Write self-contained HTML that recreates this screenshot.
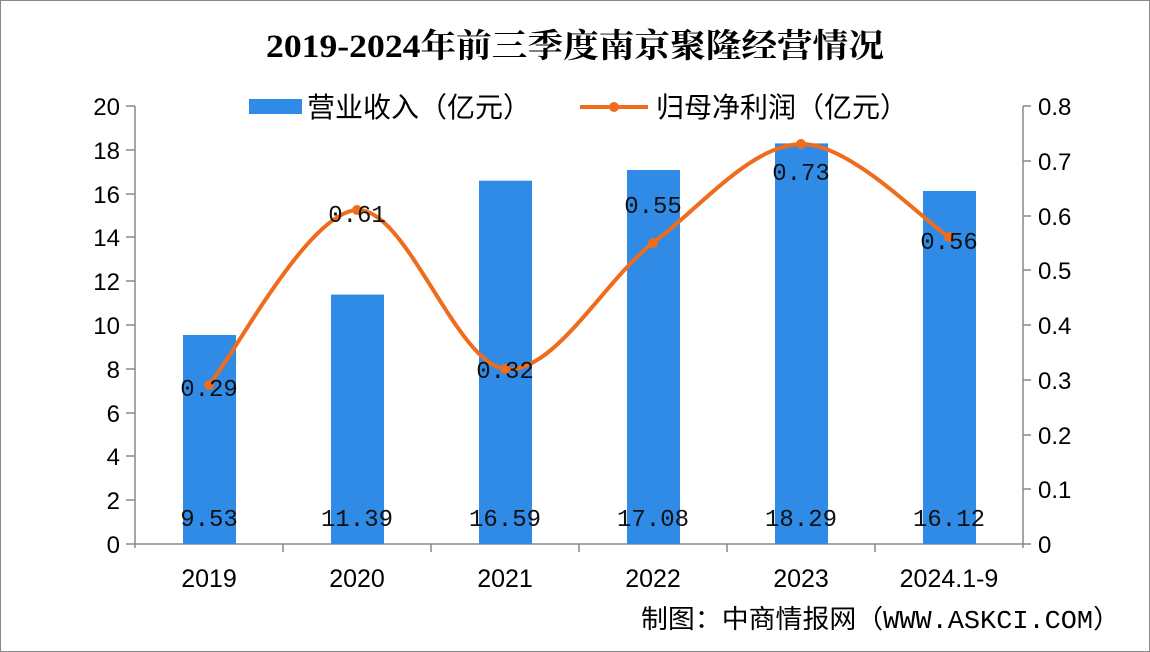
<!DOCTYPE html>
<html><head><meta charset="utf-8"><style>
body{margin:0;background:#fff;width:1150px;height:652px;overflow:hidden}
svg{display:block}
</style></head><body>
<svg width="1150" height="652" xmlns="http://www.w3.org/2000/svg">
<rect x="0.5" y="0.5" width="1149" height="651" fill="#fff" stroke="#888"/>
<text x="266" y="57" font-family="'Liberation Serif','Noto Serif CJK SC',serif" font-weight="bold" font-size="33" fill="#000" textLength="618" lengthAdjust="spacingAndGlyphs">2019-2024年前三季度南京聚隆经营情况</text>
<!-- legend -->
<rect x="249" y="99" width="53" height="15" fill="#2f8be6"/>
<text x="307" y="117" font-family="'Liberation Sans','Noto Sans CJK SC',sans-serif" font-size="28" fill="#000">营业收入（亿元）</text>
<line x1="580" y1="107" x2="648" y2="107" stroke="#ee6c1c" stroke-width="4"/>
<circle cx="614" cy="107" r="5" fill="#ee6c1c"/>
<text x="656" y="117" font-family="'Liberation Sans','Noto Sans CJK SC',sans-serif" font-size="28" fill="#000">归母净利润（亿元）</text>
<!-- axes -->
<g stroke="#888" stroke-width="1.5" fill="none">
<line x1="135" y1="106" x2="135" y2="548"/>
<line x1="1023" y1="106" x2="1023" y2="548"/>
<line x1="126" y1="544" x2="1023" y2="544"/>
<line x1="126" y1="106" x2="135" y2="106"/><line x1="126" y1="150" x2="135" y2="150"/>
<line x1="126" y1="194" x2="135" y2="194"/><line x1="126" y1="237" x2="135" y2="237"/>
<line x1="126" y1="281" x2="135" y2="281"/><line x1="126" y1="325" x2="135" y2="325"/>
<line x1="126" y1="369" x2="135" y2="369"/><line x1="126" y1="413" x2="135" y2="413"/>
<line x1="126" y1="456" x2="135" y2="456"/><line x1="126" y1="500" x2="135" y2="500"/>
<line x1="1023" y1="106" x2="1031" y2="106"/><line x1="1023" y1="161" x2="1031" y2="161"/>
<line x1="1023" y1="216" x2="1031" y2="216"/><line x1="1023" y1="270" x2="1031" y2="270"/>
<line x1="1023" y1="325" x2="1031" y2="325"/><line x1="1023" y1="380" x2="1031" y2="380"/>
<line x1="1023" y1="435" x2="1031" y2="435"/><line x1="1023" y1="489" x2="1031" y2="489"/>
<line x1="1023" y1="544" x2="1031" y2="544"/>
<line x1="283" y1="544" x2="283" y2="552"/><line x1="431" y1="544" x2="431" y2="552"/>
<line x1="579" y1="544" x2="579" y2="552"/><line x1="727" y1="544" x2="727" y2="552"/>
<line x1="875" y1="544" x2="875" y2="552"/>
</g>
<g font-family="'Liberation Sans',sans-serif" font-size="24" fill="#000" text-anchor="end">
<text x="120" y="115">20</text><text x="120" y="159">18</text><text x="120" y="203">16</text>
<text x="120" y="246">14</text><text x="120" y="290">12</text><text x="120" y="334">10</text>
<text x="120" y="378">8</text><text x="120" y="422">6</text><text x="120" y="465">4</text>
<text x="120" y="509">2</text><text x="120" y="553">0</text>
</g>
<g font-family="'Liberation Sans',sans-serif" font-size="24" fill="#000">
<text x="1038" y="115">0.8</text><text x="1038" y="170">0.7</text><text x="1038" y="225">0.6</text>
<text x="1038" y="279">0.5</text><text x="1038" y="334">0.4</text><text x="1038" y="389">0.3</text>
<text x="1038" y="444">0.2</text><text x="1038" y="498">0.1</text><text x="1038" y="553">0</text>
</g>
<!-- bars -->
<g fill="#2f8be6">
<rect x="183" y="335" width="53" height="209"/>
<rect x="331" y="294.6" width="53" height="249.4"/>
<rect x="479" y="180.7" width="53" height="363.3"/>
<rect x="627" y="170" width="53" height="374"/>
<rect x="775" y="143.4" width="53" height="400.6"/>
<rect x="923" y="191" width="53" height="353"/>
</g>
<g font-family="'Liberation Sans',sans-serif" font-size="25" fill="#000" text-anchor="middle">
<text x="209" y="587">2019</text><text x="357" y="587">2020</text><text x="505" y="587">2021</text>
<text x="653" y="587">2022</text><text x="801" y="587">2023</text><text x="949" y="587">2024.1-9</text>
</g>
<g font-family="'Liberation Mono',monospace" font-size="24" fill="#111" text-anchor="middle">
<text x="209" y="526">9.53</text><text x="357" y="526">11.39</text><text x="505" y="526">16.59</text>
<text x="653" y="526">17.08</text><text x="801" y="526">18.29</text><text x="949" y="526">16.12</text>
</g>
<!-- line -->
<path d="M209,385 C233.7,355.8 307.7,212.7 357,210 C406.3,207.3 455.7,363.5 505,369 C554.3,374.5 603.7,280.5 653,243 C702.3,205.5 751.7,145 801,144 C850.3,143 924.3,221.5 949,237" fill="none" stroke="#ee6c1c" stroke-width="4"/>
<g fill="#ee6c1c">
<circle cx="209" cy="385" r="5"/><circle cx="357" cy="210" r="5"/><circle cx="505" cy="369" r="5"/>
<circle cx="653" cy="243" r="5"/><circle cx="801" cy="144" r="5"/><circle cx="949" cy="237" r="5"/>
</g>
<g font-family="'Liberation Mono',monospace" font-size="24" fill="#111" text-anchor="middle">
<text x="209" y="396">0.29</text><text x="357" y="222">0.61</text><text x="505" y="378">0.32</text>
<text x="653" y="213">0.55</text><text x="801" y="180">0.73</text><text x="949" y="249">0.56</text>
</g>
<text x="641" y="628" font-family="'Liberation Mono','Noto Sans CJK SC',monospace" font-size="26" fill="#000" textLength="479" lengthAdjust="spacingAndGlyphs">制图：中商情报网（WWW.ASKCI.COM）</text>
</svg>
</body></html>
